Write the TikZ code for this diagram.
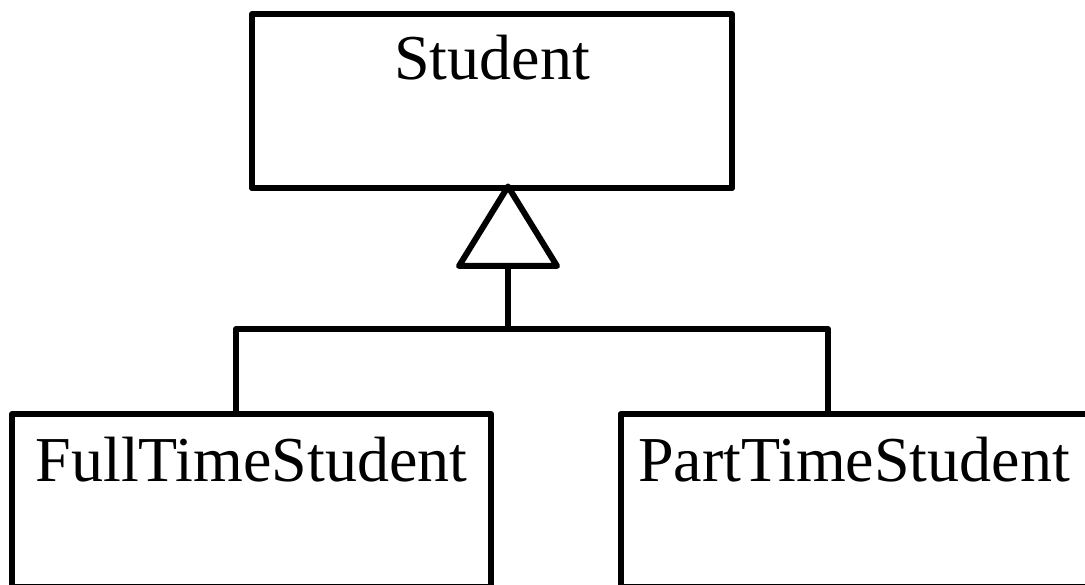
\documentclass[tikz,border=0pt]{standalone}
\usepackage{fontspec}
\setmainfont{Liberation Serif}
\begin{document}
\begin{tikzpicture}[x=1pt,y=1pt,
  line width=6pt, line join=round,
  classbox/.style={draw, rectangle, inner sep=0pt, anchor=north,
    font=\fontsize{64}{72}\selectfont},
  link/.style={draw, line width=6pt}]
\useasboundingbox (0,0) rectangle (1085,585);

% superclass
\node[classbox, minimum width=480pt, text height=66pt, text depth=108.5pt]
  (student) at (492,574) {Student};

% subclasses
\node[classbox, minimum width=479pt, text height=68pt, text depth=105.5pt]
  (full) at (251.5,174) {FullTimeStudent};
\node[classbox, minimum width=467pt, text height=68pt, text depth=105.5pt]
  (part) at (854,174) {PartTimeStudent};

% generalization triangle and tree
\coordinate (apex) at (508,398.5);
\coordinate (bl) at (459,319);
\coordinate (br) at (557,319);
\coordinate (base) at (508,319);
\coordinate (joint) at (508,256);
\coordinate (fulltop) at (236,174);
\coordinate (parttop) at (828,174);

\draw[link] (apex) -- (br) -- (bl) -- cycle;
\draw[link] (base) -- (joint);
\draw[link] (fulltop) |- (joint) -| (parttop);
\end{tikzpicture}
\end{document}
